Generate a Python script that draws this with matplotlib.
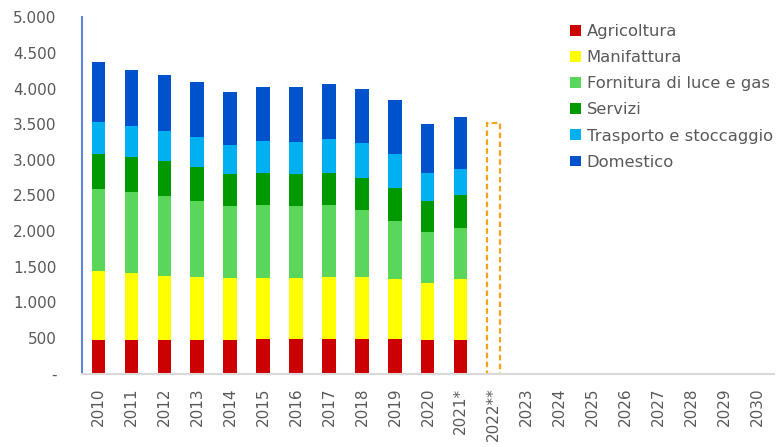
import numpy as np
import matplotlib
matplotlib.use("Agg")
from matplotlib import pyplot as plt
from matplotlib.ticker import FuncFormatter

# categorie sull'asse X
anni = ['2010', '2011', '2012', '2013', '2014', '2015', '2016', '2017', '2018',
        '2019', '2020', '2021*', '2022**', '2023', '2024', '2025', '2026',
        '2027', '2028', '2029', '2030']

# valori per settore (2010 - 2021*)
agricoltura = [475, 475, 466, 475, 475, 485, 485, 489, 489, 480, 475, 475]
manifattura = [965, 936, 908, 876, 862, 856, 861, 871, 866, 852, 796, 847]
fornitura = [1147, 1138, 1123, 1072, 1020, 1026, 1002, 1007, 941, 814, 716, 726]
servizi = [500, 496, 483, 473, 441, 453, 458, 453, 454, 455, 440, 455]
trasporto = [445, 431, 430, 421, 411, 441, 445, 474, 483, 482, 385, 369]
domestico = [843, 791, 782, 777, 740, 759, 773, 772, 763, 758, 692, 730]

# stima 2022** (solo contorno tratteggiato)
totale_2022 = 3520

serie = [
    ('Agricoltura', agricoltura, '#cc0000'),
    ('Manifattura', manifattura, '#ffff00'),
    ('Fornitura di luce e gas', fornitura, '#5ad65a'),
    ('Servizi', servizi, '#009900'),
    ('Trasporto e stoccaggio', trasporto, '#00b0f0'),
    ('Domestico', domestico, '#0052cc'),
]

grigio = '#595959'

fig = plt.figure(figsize=(7.78, 4.47), dpi=100)
ax = fig.add_axes([0.105, 0.1644, 0.89, 0.7965])

x = np.arange(len(agricoltura))
base = np.zeros(len(agricoltura))
larghezza = 0.4
for nome, valori, colore in serie:
    ax.bar(x, valori, larghezza, bottom=base, color=colore, label=nome,
           linewidth=0)
    base = base + np.array(valori)

# barra 2022** vuota e tratteggiata
ax.bar([anni.index('2022**')], [totale_2022], larghezza, fill=False,
       edgecolor='#f7a21b', linestyle=(0, (2.5, 1.5)), linewidth=1.6)

ax.set_xlim(-0.5, len(anni) - 0.5)
ax.set_ylim(0, 5000)
ax.set_yticks(np.arange(0, 5001, 500))
ax.yaxis.set_major_formatter(FuncFormatter(
    lambda v, p: '-' if v == 0 else f'{int(v):,}'.replace(',', '.')))
ax.set_xticks(np.arange(len(anni)))
ax.set_xticklabels(anni, rotation=90)

ax.tick_params(axis='both', length=0, labelsize=11, colors=grigio)
ax.tick_params(axis='y', pad=18)
ax.tick_params(axis='x', pad=10)

for lato in ['top', 'right']:
    ax.spines[lato].set_visible(False)
ax.spines['left'].set_color('#5b87d6')
ax.spines['left'].set_linewidth(1.5)
ax.spines['bottom'].set_color('#d9d9d9')
ax.spines['bottom'].set_linewidth(1.5)

leg = ax.legend(loc='upper left', bbox_to_anchor=(0.696, 1.0), frameon=False,
                fontsize=11.8, handlelength=0.65, handleheight=0.65,
                handletextpad=0.35, labelspacing=0.68, borderaxespad=0.0)
for t in leg.get_texts():
    t.set_color(grigio)

fig.savefig('out.png', dpi=100)
